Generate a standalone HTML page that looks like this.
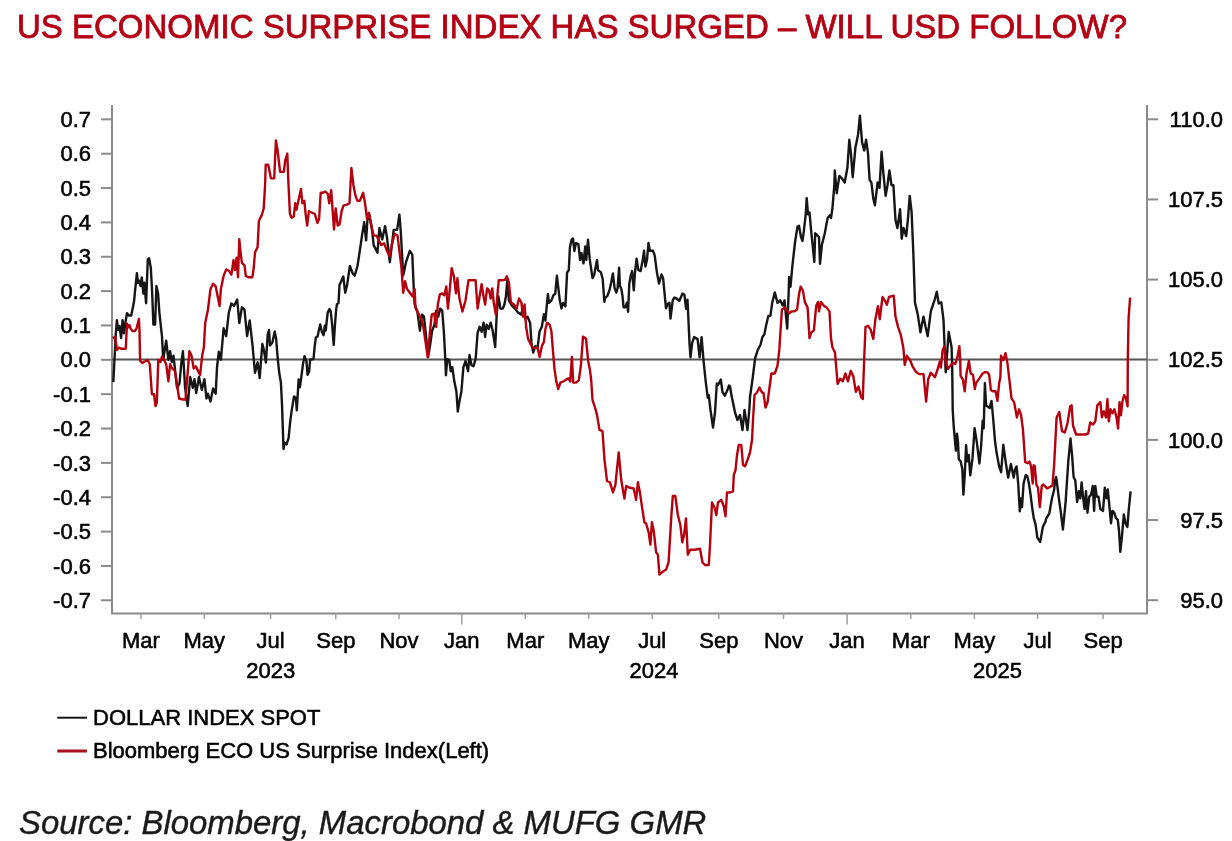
<!DOCTYPE html><html><head><meta charset="utf-8"><style>html,body{margin:0;padding:0;background:#fff;width:1232px;height:841px;overflow:hidden}svg{display:block;will-change:transform}#w{width:1232px;height:841px}text{font-family:"Liberation Sans",sans-serif}</style></head><body>
<div id="w">
<svg width="1232" height="841" viewBox="0 0 1232 841">
<text x="17" y="38.4" font-size="33" fill="#b40014" stroke="#b40014" stroke-width="0.8">US ECONOMIC SURPRISE INDEX HAS SURGED – WILL USD FOLLOW?</text>
<g stroke="#8a8a8a" stroke-width="2" fill="none">
<path d="M112.0 105.0V613.6H1147.0V105.0"/>
<path d="M101 119.35H112.0"/>
<path d="M101 153.70H112.0"/>
<path d="M101 188.06H112.0"/>
<path d="M101 222.41H112.0"/>
<path d="M101 256.77H112.0"/>
<path d="M101 291.12H112.0"/>
<path d="M101 325.47H112.0"/>
<path d="M101 359.83H112.0"/>
<path d="M101 394.18H112.0"/>
<path d="M101 428.54H112.0"/>
<path d="M101 462.89H112.0"/>
<path d="M101 497.24H112.0"/>
<path d="M101 531.60H112.0"/>
<path d="M101 565.95H112.0"/>
<path d="M101 600.31H112.0"/>
<path d="M1147.0 119.30H1158"/>
<path d="M1147.0 199.45H1158"/>
<path d="M1147.0 279.60H1158"/>
<path d="M1147.0 359.75H1158"/>
<path d="M1147.0 439.90H1158"/>
<path d="M1147.0 520.05H1158"/>
<path d="M1147.0 600.20H1158"/>
</g>
<g stroke="#a0a0a0" stroke-width="1.5" fill="none">
<path d="M141.0 613.6V619.0"/>
<path d="M204.3 613.6V619.0"/>
<path d="M270.6 613.6V619.0"/>
<path d="M335.8 613.6V619.0"/>
<path d="M399.0 613.6V619.0"/>
<path d="M461.8 613.6V624.5"/>
<path d="M525.3 613.6V619.0"/>
<path d="M588.7 613.6V619.0"/>
<path d="M652.2 613.6V619.0"/>
<path d="M718.8 613.6V619.0"/>
<path d="M783.5 613.6V619.0"/>
<path d="M847.1 613.6V624.5"/>
<path d="M910.8 613.6V619.0"/>
<path d="M974.4 613.6V619.0"/>
<path d="M1037.5 613.6V619.0"/>
<path d="M1103.1 613.6V619.0"/>
</g>
<path d="M112.0 359.6H1147.0" stroke="#555" stroke-width="2"/>
<g font-size="22" fill="#000" stroke="#000" stroke-width="0.55" text-anchor="end">
<text x="91" y="126.9">0.7</text>
<text x="91" y="161.3">0.6</text>
<text x="91" y="195.7">0.5</text>
<text x="91" y="230.0">0.4</text>
<text x="91" y="264.4">0.3</text>
<text x="91" y="298.7">0.2</text>
<text x="91" y="333.1">0.1</text>
<text x="91" y="367.4">0.0</text>
<text x="91" y="401.8">-0.1</text>
<text x="91" y="436.1">-0.2</text>
<text x="91" y="470.5">-0.3</text>
<text x="91" y="504.8">-0.4</text>
<text x="91" y="539.2">-0.5</text>
<text x="91" y="573.6">-0.6</text>
<text x="91" y="607.9">-0.7</text>
<text x="1223" y="126.9">110.0</text>
<text x="1223" y="207.0">107.5</text>
<text x="1223" y="287.2">105.0</text>
<text x="1223" y="367.4">102.5</text>
<text x="1223" y="447.5">100.0</text>
<text x="1223" y="527.6">97.5</text>
<text x="1223" y="607.8">95.0</text>
</g>
<g font-size="22" fill="#000" stroke="#000" stroke-width="0.55" text-anchor="middle">
<text x="141.0" y="648.4">Mar</text>
<text x="204.3" y="648.4">May</text>
<text x="270.6" y="648.4">Jul</text>
<text x="335.8" y="648.4">Sep</text>
<text x="399.0" y="648.4">Nov</text>
<text x="461.8" y="648.4">Jan</text>
<text x="525.3" y="648.4">Mar</text>
<text x="588.7" y="648.4">May</text>
<text x="652.2" y="648.4">Jul</text>
<text x="718.8" y="648.4">Sep</text>
<text x="783.5" y="648.4">Nov</text>
<text x="847.1" y="648.4">Jan</text>
<text x="910.8" y="648.4">Mar</text>
<text x="974.4" y="648.4">May</text>
<text x="1037.5" y="648.4">Jul</text>
<text x="1103.1" y="648.4">Sep</text>
<text x="270.7" y="677.6">2023</text>
<text x="654.1" y="677.6">2024</text>
<text x="997.6" y="677.6">2025</text>
</g>
<polyline points="113.3,382.1 114.5,359.5 115.7,335.7 116.9,320.2 118.1,329.8 119.5,326.0 121.1,338.1 122.6,320.2 124.0,333.3 125.8,320.2 127.0,313.1 128.8,315.5 131.2,315.5 133.0,307.1 134.2,300.0 135.0,291.4 136.9,273.2 138.0,282.8 139.3,280.7 140.5,286.0 141.8,277.5 143.3,293.5 144.4,282.8 146.1,303.2 147.8,259.3 149.1,258.2 150.8,267.8 152.1,291.4 153.4,324.6 155.1,324.6 156.4,286.0 158.1,293.5 159.4,312.8 162.0,336.4 163.2,359.9 166.2,340.6 168.4,359.9 170.1,351.3 171.8,362.1 173.5,355.6 177.0,387.8 179.5,383.5 181.2,364.2 182.9,351.3 185.1,387.8 187.7,406.0 190.2,377.0 192.8,387.8 194.5,379.2 196.2,393.1 199.0,377.0 201.8,389.9 204.4,379.2 206.5,398.5 207.9,393.7 210.5,401.6 213.1,388.5 215.7,393.7 217.0,367.5 218.8,351.8 220.9,359.7 223.6,328.3 226.2,336.1 228.8,312.6 231.4,303.4 234.0,306.0 237.2,299.5 239.3,323.0 241.9,307.3 244.5,309.9 247.1,336.1 249.7,320.4 252.4,344.0 255.0,372.8 257.6,362.3 259.7,378.0 262.3,343.9 263.9,350.1 265.9,362.5 267.7,334.6 269.0,330.0 270.0,345.5 272.4,342.4 274.7,331.5 276.2,339.3 277.8,359.4 279.3,373.3 280.9,382.6 282.0,404.2 282.9,430.5 283.5,449.0 284.7,442.8 286.6,444.4 288.6,438.2 290.1,422.7 291.7,410.4 294.0,396.5 295.9,398.0 296.8,410.4 297.9,391.8 298.6,379.5 299.9,387.2 301.4,376.4 303.0,364.0 304.5,356.3 306.4,360.9 307.6,374.8 309.1,371.7 310.2,359.4 312.2,359.4 313.5,359.0 314.6,347.1 315.8,337.6 317.6,336.4 318.8,330.5 320.2,324.5 321.8,331.7 323.6,335.2 324.8,325.7 325.7,330.5 326.5,323.3 327.7,312.6 329.5,309.0 330.7,311.4 331.9,322.1 333.7,344.8 334.9,325.7 336.1,310.2 336.9,304.3 338.5,303.1 339.5,285.1 343.3,276.5 345.2,292.7 347.1,285.1 349.9,266.0 352.8,273.7 354.7,275.6 357.5,266.0 359.8,250.8 362.3,233.7 364.2,222.3 366.1,240.4 367.4,220.4 369.3,214.7 371.8,228.0 373.7,245.1 375.6,248.9 377.5,252.7 379.4,228.0 382.2,239.4 385.1,226.1 387.0,237.5 389.8,262.2 393.7,229.9 397.1,229.9 399.4,214.7 400.9,233.7 403.2,275.6 406.0,262.2 409.8,250.8 412.3,254.6 413.6,285.1 414.6,304.1 417.4,311.7 419.9,330.7 422.0,314.6 424.0,316.7 426.1,336.9 428.1,357.1 430.1,345.0 432.1,330.8 434.5,324.7 436.2,310.6 438.2,316.7 440.2,308.6 442.2,310.6 443.8,330.8 445.3,359.1 445.9,375.3 447.3,359.1 449.3,360.1 450.7,371.2 452.3,367.2 454.3,381.3 456.4,391.4 457.8,411.6 459.4,401.5 461.4,391.4 463.4,367.2 465.5,361.1 468.1,371.2 469.5,355.0 471.5,365.2 473.5,366.2 475.6,359.1 477.6,332.8 479.6,326.8 481.6,331.8 483.6,322.7 485.1,336.9 486.7,324.7 488.7,328.8 490.7,322.7 492.7,330.8 495.2,347.0 496.8,312.6 498.4,296.5 500.4,308.6 502.8,308.6 504.4,304.5 505.9,296.5 507.3,280.3 508.9,300.5 511.9,305.6 514.9,308.6 518.0,312.6 521.0,314.6 523.4,306.6 525.1,318.7 527.5,316.7 530.1,322.7 531.5,342.9 533.2,352.6 535.3,346.2 537.5,348.3 539.6,331.2 541.8,327.0 543.9,314.1 545.4,320.5 547.9,293.9 549.0,302.9 551.3,300.6 553.5,295.0 555.2,293.9 556.9,275.8 558.1,286.0 559.8,300.6 561.5,308.5 563.1,302.9 565.4,306.3 567.1,272.4 568.8,270.2 569.9,247.6 571.6,239.7 573.0,238.5 574.4,251.0 575.9,243.1 578.4,244.2 580.1,260.0 581.5,253.2 583.5,263.4 585.2,246.5 586.3,260.0 588.0,239.7 589.7,258.9 592.5,278.1 594.2,274.7 597.0,260.0 598.1,270.2 601.0,272.4 602.7,279.2 604.4,301.8 605.0,298.2 607.3,296.0 609.5,290.3 611.2,282.4 612.9,273.4 614.6,288.1 616.3,292.6 617.6,288.1 619.1,267.7 619.9,285.8 621.4,289.2 622.5,296.0 623.6,307.3 625.3,307.3 627.0,302.7 628.1,311.8 629.3,283.5 631.0,274.5 632.1,271.1 633.8,290.3 634.9,273.4 636.6,258.7 638.3,270.0 640.6,271.1 642.8,259.8 644.0,250.8 645.4,266.6 647.0,259.8 648.5,242.9 649.9,250.8 653.0,250.8 654.7,255.3 656.9,272.3 659.0,283.5 661.5,274.5 663.1,277.9 666.0,308.4 667.7,303.9 669.4,302.7 670.5,318.6 672.7,300.5 674.1,297.7 674.7,297.7 676.8,298.7 679.4,300.7 682.4,293.6 684.4,294.6 686.1,308.8 687.5,299.7 688.5,320.9 689.5,343.1 690.5,357.3 692.1,343.1 694.1,337.1 697.6,339.1 699.6,357.3 701.6,337.1 703.6,361.3 705.7,381.5 707.7,397.7 708.8,395.0 710.5,410.0 713.0,427.5 715.0,412.5 716.8,383.5 718.0,385.0 720.8,379.5 722.5,392.0 724.8,395.7 727.5,390.0 728.9,385.6 730.0,386.3 731.9,397.7 732.5,400.0 735.0,412.5 737.5,420.0 740.0,415.0 742.5,430.0 744.5,410.0 747.5,430.0 749.5,407.5 750.0,397.0 752.6,378.7 755.2,357.8 757.8,349.9 760.5,344.7 762.5,336.9 764.4,334.2 766.2,325.1 768.3,315.9 770.4,315.9 772.2,302.9 774.8,292.4 777.5,302.9 780.1,300.3 782.7,305.5 784.5,300.3 787.2,328.6 788.6,294.3 789.1,277.1 790.5,286.7 792.4,265.7 795.2,241.0 797.5,226.7 799.0,225.7 801.0,237.1 802.5,241.0 803.8,231.4 805.7,214.3 806.7,198.1 808.0,214.3 809.5,212.4 811.4,233.3 812.8,246.7 814.3,261.9 815.2,233.3 817.1,235.2 819.0,237.1 820.0,263.8 821.9,244.8 824.8,233.3 827.6,218.1 829.9,215.2 831.0,218.1 832.4,208.6 834.3,185.7 834.8,170.5 836.7,193.2 839.4,175.9 842.0,178.5 844.7,182.5 847.4,167.8 849.3,139.8 850.9,153.1 852.7,177.2 855.4,147.8 858.1,134.4 859.9,115.7 862.1,142.4 864.2,150.5 866.1,139.8 868.0,153.1 869.6,179.9 871.4,182.5 873.3,198.6 874.9,205.3 877.6,182.5 879.5,187.9 881.6,151.8 883.5,174.5 885.6,195.9 887.5,185.2 889.4,170.5 891.5,185.2 893.4,185.2 895.5,220.0 897.4,228.0 900.1,209.3 901.7,238.7 903.5,228.0 906.2,236.0 908.1,217.3 909.7,195.9 911.6,212.0 913.4,254.7 915.0,302.9 917.7,314.0 920.4,332.3 923.5,316.6 925.6,327.1 927.7,336.2 930.8,311.4 934.7,299.6 936.8,291.8 938.7,303.5 941.3,302.2 943.5,320.0 945.7,372.3 948.7,331.9 951.6,347.3 952.2,367.6 952.7,410.0 953.7,426.1 954.8,438.9 955.9,450.7 957.0,433.6 958.0,442.1 958.8,459.3 960.7,461.4 962.3,468.9 963.4,494.6 964.8,474.2 966.1,445.3 967.3,461.4 968.7,455.0 970.3,475.3 972.5,458.2 974.6,428.2 976.8,442.1 979.4,463.5 981.0,447.5 982.7,420.7 983.7,428.2 984.9,383.3 986.1,405.6 989.7,408.0 991.5,400.9 993.3,420.0 995.0,441.0 996.6,452.8 999.2,466.7 1001.1,472.2 1003.3,444.8 1006.0,464.0 1008.2,477.6 1010.9,464.0 1013.7,477.6 1015.0,469.6 1016.6,466.4 1018.2,483.5 1019.8,511.4 1020.9,498.5 1022.0,507.1 1023.6,483.5 1025.7,475.0 1027.3,476.0 1028.9,483.5 1030.5,494.2 1032.1,507.1 1033.7,517.8 1035.5,524.1 1037.4,537.8 1040.2,541.9 1042.9,526.8 1045.6,521.4 1046.0,518.9 1049.3,513.5 1051.9,498.5 1054.1,490.0 1055.1,480.3 1056.2,477.1 1057.3,485.7 1058.9,498.5 1061.0,513.5 1062.9,529.6 1065.6,502.2 1068.3,461.2 1070.5,438.5 1072.1,455.7 1073.6,477.0 1075.3,480.6 1077.1,502.0 1078.9,491.3 1080.3,498.4 1081.6,482.4 1083.4,500.2 1084.6,509.1 1086.0,491.3 1087.5,512.7 1089.3,496.6 1091.0,494.9 1092.8,486.0 1094.1,510.9 1095.3,486.0 1096.7,496.6 1098.5,496.6 1100.3,509.1 1103.0,510.9 1104.8,487.7 1106.5,498.4 1107.8,489.5 1109.2,503.8 1111.0,523.4 1112.4,510.9 1114.2,512.7 1116.0,518.0 1117.8,519.8 1119.0,530.5 1120.3,551.9 1122.0,535.9 1123.8,514.5 1125.6,523.4 1127.4,527.0 1128.8,509.1 1130.6,491.3" fill="none" stroke="#161616" stroke-width="2.4" stroke-linejoin="round"/>
<polyline points="112.7,338.1 115.1,336.9 116.3,345.2 116.9,350.0 118.7,347.6 121.7,348.8 125.8,348.8 126.4,335.7 127.0,323.8 128.2,327.4 129.4,325.0 130.6,328.6 132.4,331.0 134.8,331.0 136.5,328.6 138.9,319.0 139.5,329.8 140.1,360.7 142.3,363.0 147.6,360.0 149.8,364.2 151.9,394.2 154.0,394.2 155.5,406.0 156.8,402.7 158.3,360.0 160.5,362.0 162.0,356.7 164.1,360.0 166.2,364.2 168.4,381.3 170.1,364.2 172.2,368.5 174.8,370.6 176.5,381.3 179.1,398.5 183.0,399.5 185.5,399.5 189.4,351.3 191.5,355.6 193.7,368.5 195.8,366.3 197.9,370.6 200.1,374.9 202.2,355.6 203.9,347.1 205.2,323.0 207.9,310.0 210.5,289.0 213.1,283.8 215.7,286.4 218.3,299.5 219.6,306.0 220.9,289.0 223.6,275.9 226.2,269.4 228.8,270.7 231.4,274.6 233.5,260.2 235.0,270.0 236.6,257.6 238.0,277.2 239.3,239.3 240.6,252.4 241.9,262.8 244.5,265.4 245.8,275.9 248.4,277.2 252.4,277.2 253.7,268.0 255.0,252.4 257.6,247.1 258.9,220.9 259.8,219.0 261.8,215.1 263.7,208.5 265.1,185.0 265.7,164.7 268.3,164.7 270.9,178.4 274.2,178.4 275.9,140.5 277.5,149.6 280.1,171.9 283.8,171.9 285.3,160.1 287.3,153.6 288.4,182.4 289.9,213.8 291.6,217.7 293.8,216.4 295.2,203.3 296.5,209.8 298.4,200.7 301.0,188.9 302.4,203.3 304.3,200.7 305.6,213.8 307.2,225.5 308.9,211.2 311.5,212.5 314.8,213.8 317.4,222.9 319.1,219.0 320.7,192.8 322.6,192.8 325.3,191.5 327.9,194.1 329.2,203.3 331.2,190.2 332.5,208.5 334.0,229.5 335.7,208.5 337.7,225.5 339.7,224.2 341.6,211.2 343.6,205.3 346.9,204.6 349.5,203.3 351.4,168.0 353.4,185.0 355.4,195.4 357.3,200.7 359.9,200.7 363.2,192.8 365.2,204.6 367.1,219.0 368.9,212.8 371.8,228.0 373.7,235.6 376.5,235.6 378.8,240.4 381.3,245.1 384.1,243.2 387.0,250.8 389.5,256.5 391.7,245.1 394.6,233.7 397.5,235.6 399.4,250.8 401.3,266.0 403.2,292.7 405.1,281.3 407.0,288.9 409.8,292.7 412.7,296.5 414.6,288.9 415.5,307.9 418.4,313.6 421.2,319.3 423.0,324.7 425.1,338.9 427.7,357.1 429.7,334.8 431.7,314.6 434.1,313.6 436.2,326.8 437.8,304.5 439.8,294.4 442.2,293.4 444.2,295.5 446.3,286.4 447.9,308.6 449.7,290.4 451.7,268.2 453.9,276.3 456.0,293.4 457.4,278.3 459.4,298.5 462.4,311.6 465.5,300.5 468.5,280.3 472.5,280.3 475.6,280.3 477.6,308.6 479.6,296.5 481.6,284.3 483.6,296.5 485.1,304.5 487.1,288.4 489.1,290.4 490.7,298.5 492.3,288.4 493.7,302.5 495.8,314.6 497.8,290.4 498.8,280.3 501.8,280.3 504.8,279.9 506.9,276.3 508.9,282.3 510.9,302.5 513.9,304.5 516.6,308.6 519.0,298.5 521.4,302.5 523.0,316.7 524.6,304.5 526.1,326.8 528.1,338.9 530.1,342.9 532.1,347.0 534.3,348.3 537.5,347.3 539.6,356.9 541.8,346.2 543.9,341.9 545.4,329.1 547.1,322.7 549.7,324.8 551.4,331.2 553.1,352.6 554.6,369.7 556.1,380.4 558.2,389.0 560.4,382.6 563.2,381.5 566.4,379.4 568.5,378.3 570.2,381.5 571.9,356.9 573.2,382.6 576.0,382.6 578.8,380.4 580.9,365.5 583.0,336.6 586.0,338.7 588.2,361.2 589.9,369.7 591.2,380.0 592.5,400.0 595.0,407.4 597.0,414.9 599.5,429.9 602.5,431.1 604.5,459.8 607.0,481.0 610.0,482.3 613.0,492.3 615.4,484.8 618.7,452.4 621.2,479.8 624.4,498.5 626.2,486.0 629.9,487.8 633.7,488.5 636.1,499.8 637.9,482.3 639.9,492.3 642.4,509.7 644.4,522.2 646.1,523.5 648.6,532.2 650.4,544.7 651.9,522.2 653.6,529.7 656.1,552.2 657.9,554.7 659.4,574.6 662.3,572.1 666.1,569.6 668.6,562.1 671.1,519.7 672.8,496.0 675.3,496.0 677.8,514.7 680.3,524.7 682.3,542.2 684.1,534.7 686.0,518.5 687.8,554.7 690.3,549.7 694.8,549.7 700.0,548.8 702.5,562.5 705.0,565.0 708.8,565.0 710.0,545.0 712.0,502.5 714.5,507.5 716.3,515.0 718.0,502.5 721.3,500.0 723.8,506.3 725.5,516.3 727.0,492.5 730.0,492.5 733.0,491.3 733.8,475.0 735.5,470.0 737.0,455.0 738.8,445.0 741.3,445.0 743.0,465.0 745.0,466.3 747.5,460.0 750.0,452.5 752.0,440.0 753.0,420.0 754.5,395.0 757.0,392.5 759.5,387.5 762.0,392.5 763.5,393.0 765.5,407.5 767.5,402.5 769.5,387.5 771.4,373.5 774.8,373.5 777.5,365.6 779.3,349.9 781.9,309.5 784.8,307.6 787.6,311.4 789.5,313.3 791.4,311.4 794.3,311.4 797.1,309.5 799.0,294.3 800.6,286.7 802.9,290.5 804.8,301.9 807.6,307.6 809.5,338.1 811.4,332.4 813.9,330.5 816.2,305.7 818.1,301.9 819.0,311.4 821.0,301.9 823.8,305.7 826.7,307.6 829.5,311.4 831.0,338.1 832.4,347.3 835.0,352.5 837.6,383.9 840.2,378.7 842.8,381.3 845.4,373.5 848.0,381.3 850.7,370.8 853.3,376.1 855.9,391.8 858.5,386.5 861.1,397.0 862.8,399.0 864.2,358.4 865.5,327.1 868.1,325.8 870.7,329.7 873.3,338.8 875.4,319.2 878.0,306.1 879.8,319.2 882.5,297.0 885.1,300.9 886.9,304.8 889.0,297.0 893.7,295.7 895.5,316.6 898.1,327.1 900.8,334.9 903.4,348.0 904.7,365.0 906.8,355.8 909.9,359.7 912.5,366.3 915.7,371.5 919.1,374.1 923.5,374.1 926.1,401.6 928.2,379.3 930.8,372.8 935.0,377.1 937.4,370.0 939.8,361.6 940.9,367.6 942.7,349.7 944.5,346.2 945.7,361.6 948.1,368.8 949.9,366.4 951.6,364.0 953.4,362.8 955.2,364.0 957.0,359.2 959.4,346.2 960.2,359.2 960.6,375.9 962.9,379.5 964.7,391.3 966.5,373.5 968.9,361.0 970.7,373.5 973.0,374.7 974.8,389.0 976.0,383.0 977.8,380.6 980.2,377.1 982.6,373.5 984.9,372.3 987.3,372.3 989.1,374.7 990.9,390.2 993.3,391.3 995.6,391.3 997.4,400.9 999.2,383.0 1000.4,377.1 1001.0,355.7 1003.3,360.1 1005.5,353.2 1007.4,362.8 1009.3,379.2 1011.5,398.3 1014.2,402.4 1016.9,417.5 1019.1,409.3 1021.0,414.7 1023.0,430.0 1025.2,462.1 1027.8,463.2 1029.5,461.6 1031.1,466.4 1032.7,483.5 1033.7,465.3 1034.8,466.4 1036.4,484.6 1038.0,487.8 1039.8,507.1 1041.8,485.7 1043.4,484.6 1047.1,488.4 1050.3,486.7 1052.5,485.7 1054.1,465.3 1056.6,417.5 1059.3,412.0 1062.0,431.1 1064.8,432.5 1067.5,423.0 1070.2,406.5 1071.6,405.3 1073.0,425.5 1076.1,434.5 1080.1,434.5 1085.2,434.5 1088.2,433.5 1090.2,422.4 1093.2,424.4 1095.3,421.4 1097.3,405.3 1100.3,402.2 1101.9,417.4 1103.9,411.3 1106.0,417.4 1107.4,399.2 1108.8,421.4 1110.4,409.3 1112.4,413.3 1114.4,409.3 1116.5,417.4 1118.1,428.5 1119.5,402.2 1120.9,415.4 1122.5,401.2 1124.1,395.2 1125.6,397.2 1127.6,406.3 1127.8,359.0 1128.6,318.0 1130.1,297.6" fill="none" stroke="#b4000e" stroke-width="2.4" stroke-linejoin="round"/>
<path d="M57.3 717.7H87" stroke="#161616" stroke-width="2"/>
<path d="M57.3 751H87" stroke="#a8101c" stroke-width="3"/>
<g font-size="22" fill="#000" stroke="#000" stroke-width="0.55">
<text x="93" y="725.1">DOLLAR INDEX SPOT</text>
<text x="93" y="758.1">Bloomberg ECO US Surprise Index(Left)</text>
</g>
<text x="19" y="834.2" font-size="32.9" font-style="italic" fill="#1a1a1a" stroke="#1a1a1a" stroke-width="0.4">Source: Bloomberg, Macrobond &amp; MUFG GMR</text>
</svg></div></body></html>
